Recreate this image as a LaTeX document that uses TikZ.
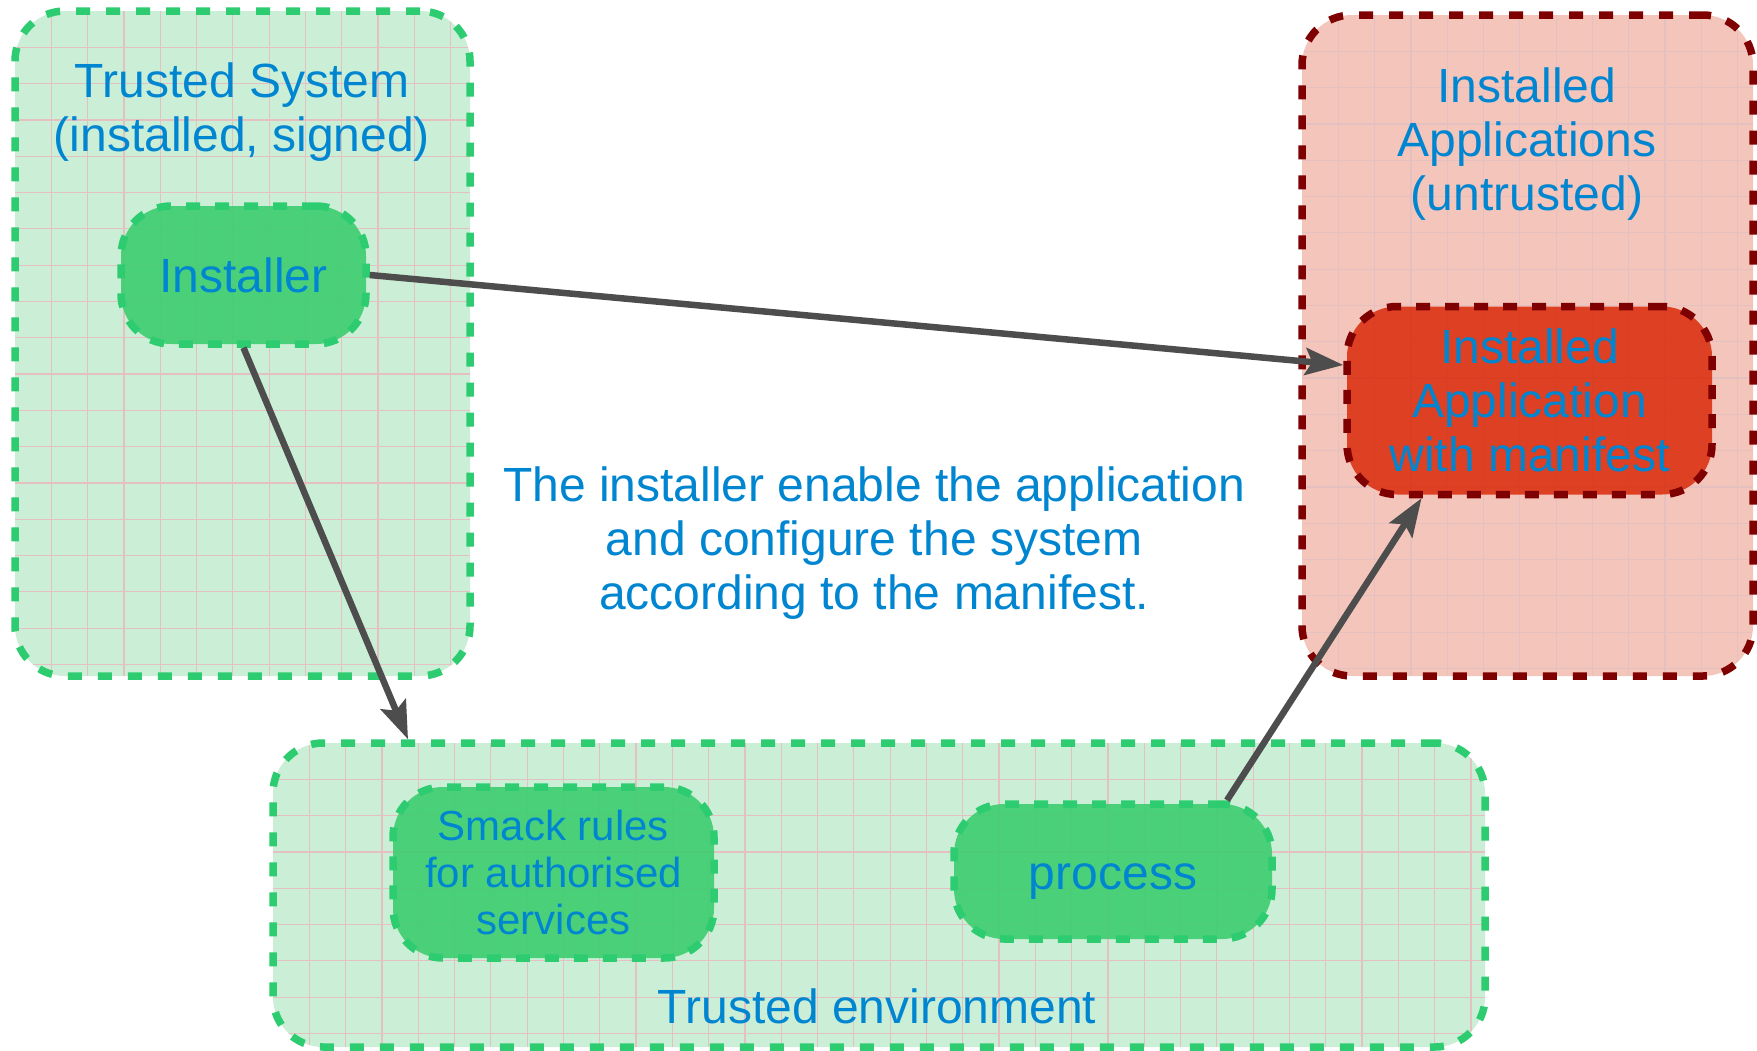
\documentclass[tikz,border=0pt]{standalone}
\usepackage{fontspec}
\setmainfont{Liberation Sans}
\usetikzlibrary{arrows.meta,calc}
\definecolor{txtblue}{RGB}{0,133,209}
\definecolor{grnline}{RGB}{46,204,113}
\definecolor{grnbg}{RGB}{203,239,214}
\definecolor{grnnode}{RGB}{62,205,112}
\definecolor{redbg}{RGB}{244,197,187}
\definecolor{redline}{RGB}{127,0,0}
\definecolor{rednode}{RGB}{219,50,19}
\definecolor{arrowgray}{RGB}{77,77,77}
\definecolor{gridpink}{RGB}{228,192,192}
\tikzset{
  gridfill/.style={path picture={
     \foreach \k in {1,...,34}{
       \draw[gridpink, solid, line width=1.2pt] ([xshift=\k*36.3pt]path picture bounding box.north west) -- ([xshift=\k*36.3pt]path picture bounding box.south west);
       \draw[gridpink, solid, line width=1.2pt] ([yshift=-\k*36.3pt]path picture bounding box.north west) -- ([yshift=-\k*36.3pt]path picture bounding box.north east);
     }}},
  container/.style={rectangle, rounded corners=50pt, line width=7.5pt, dash pattern=on 14pt off 16pt, gridfill, inner sep=0pt},
  greenbox/.style={container, draw=grnline, fill=grnbg},
  redbox/.style={container, draw=redline, fill=redbg},
  pill/.style={rectangle, rounded corners=50pt, line width=7.5pt, dash pattern=on 14pt off 15pt, inner sep=0pt, align=center, text=txtblue, fill opacity=0.9, text opacity=1, font=\fontsize{48}{54}\selectfont},
  greenpill/.style={pill, draw=grnline, fill=grnnode},
  redpill/.style={pill, draw=redline, fill=rednode},
  label/.style={align=center, text=txtblue, inner sep=0pt, font=\fontsize{48}{54}\selectfont},
  conn/.style={draw=arrowgray, line width=6.5pt, -{Stealth[length=38pt, width=27pt, inset=7pt]}},
}
\begin{document}
\begin{tikzpicture}[x=1pt, y=-1pt]
\useasboundingbox[fill=white] (0,0) rectangle (1757,1050);
% containers
\node[greenbox, minimum width=455pt, minimum height=665pt] (ts) at (242.5,343.5) {};
\node[redbox, minimum width=451pt, minimum height=661pt] (ia) at (1527.5,345.5) {};
\node[greenbox, minimum width=1212pt, minimum height=304pt] (env) at (879,895) {};
% container titles
\node[label] (tstitle) at (242,112.5) {Trusted System\\(installed, signed)};
\node[label] (iatitle) at (1527,144) {Installed\\Applications\\(untrusted)};
\node[label] (envtitle) at (877,1006) {Trusted environment};
\node[label] (note) at (874,543.5) {The installer enable the application\\and configure the system\\according to the manifest.};
% inner nodes
\node[greenpill, minimum width=245pt, minimum height=138pt] (inst) at (243.5,275) {Installer};
\node[redpill, minimum width=365pt, minimum height=188pt] (app) at (1529.5,400.5) {Installed\\Application\\with manifest};
\node[greenpill, minimum width=321pt, minimum height=171pt, font=\fontsize{42}{47}\selectfont] (smack) at (553.5,872.5) {Smack rules\\for authorised\\services};
\node[greenpill, minimum width=318pt, minimum height=135pt, text height=36pt, text depth=0pt] (proc) at (1113,871.5) {process};
% connectors
\draw[conn] (inst.east) -- ([yshift=35.5pt]app.west);
\draw[conn] (inst.south) -- ([xshift=-471pt]env.north);
\draw[conn] ([xshift=114pt]proc.north) -- ([xshift=-108pt]app.south);
\end{tikzpicture}
\end{document}
